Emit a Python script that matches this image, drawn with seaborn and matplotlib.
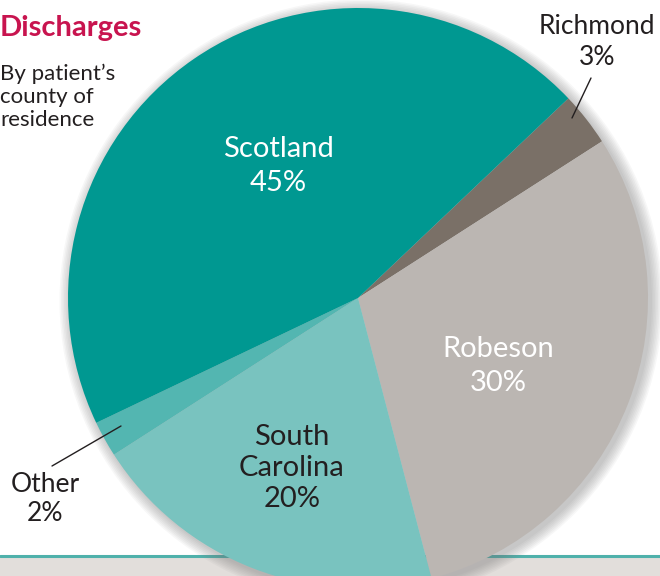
import matplotlib
matplotlib.use("Agg")
import matplotlib.pyplot as plt
from matplotlib.patches import Circle
import seaborn as sns

# data: discharges by patient's county of residence (clockwise from top right)
counties = ["Richmond", "Robeson", "South Carolina", "Other", "Scotland"]
shares = [3, 30, 20, 2, 45]
colors = ["#7a7067", "#bbb6b2", "#79c3bf", "#53b6b1", "#009891"]

sns.set_theme(style="white")
plt.rcParams["font.family"] = ["Lato", "DejaVu Sans"]

W, H = 660, 576
cx, cy, r = 358, H - 298, 290
fig = plt.figure(figsize=(6.6, 5.76), dpi=100)
ax = fig.add_axes([0, 0, 1, 1])

# grey footer band with teal rule
ax.axhspan(0, H - 557, color="#e2dedb", zorder=0)
ax.axhline(H - 556, color="#4fb1ab", lw=2.2, zorder=1)

# soft shadow behind the pie
for k in range(8):
    ax.add_patch(Circle((cx + 3, cy - 3), r + 1 + k * 1.5, color="#777777",
                        alpha=0.06, lw=0, zorder=1.5))

ax.pie(shares, colors=colors, startangle=43.5, counterclock=False,
       center=(cx, cy), radius=r, frame=True,
       wedgeprops=dict(linewidth=0, zorder=2))
ax.set_xlim(0, W)
ax.set_ylim(0, H)
ax.axis("off")

txt = "#231f20"
ax.text(278, H - 166, "Scotland\n45%", color="white", fontsize=21, ha="center",
        va="center", linespacing=1.35, zorder=5)
ax.text(498, H - 366, "Robeson\n30%", color="white", fontsize=21, ha="center",
        va="center", linespacing=1.35, zorder=5)
ax.text(292, H - 468, "South\nCarolina\n20%", color=txt, fontsize=21, ha="center",
        va="center", linespacing=1.25, zorder=5)
ax.text(597, H - 42, "Richmond\n3%", color=txt, fontsize=19, ha="center",
        va="center", linespacing=1.3, zorder=5)
ax.text(45, H - 499, "Other\n2%", color=txt, fontsize=19, ha="center",
        va="center", linespacing=1.2, zorder=5)

# leader lines
ax.plot([591, 572], [H - 78, H - 118], color=txt, lw=1, zorder=5)
ax.plot([52, 121], [H - 466, H - 426], color=txt, lw=1, zorder=5)

# title and subtitle
ax.text(0, H - 28, "Discharges", color="#c8144f", fontsize=21, fontweight="bold",
        ha="left", va="center", zorder=5)
ax.text(0, H - 97, "By patient\u2019s\ncounty of\nresidence", color=txt, fontsize=16,
        ha="left", va="center", linespacing=1.2, zorder=5)

fig.savefig("out.png", dpi=100)
